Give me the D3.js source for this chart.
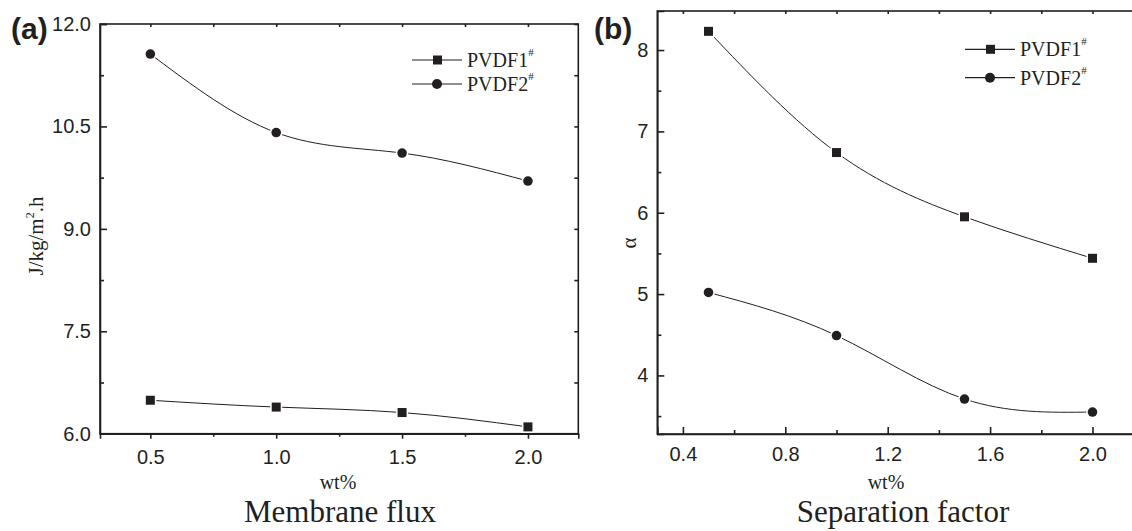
<!DOCTYPE html>
<html>
<head>
<meta charset="utf-8">
<script src="https://cdn.jsdelivr.net/npm/d3@7"></script>
<style>
body{margin:0;background:#fff;}
svg{display:block;}
.tick text{font-family:"Liberation Sans",Arial,sans-serif;font-size:20px;fill:#231f20;}
.tick line,.domain{stroke:#231f20;stroke-width:1.6;}
.frame{fill:none;stroke:#231f20;stroke-width:1.6;}
.serif{font-family:"Liberation Serif","Times New Roman",serif;fill:#231f20;}
.curve{fill:none;stroke:#231f20;stroke-width:1;}
</style>
</head>
<body>
<script>
// values
const WT = [0.5, 1.0, 1.5, 2.0]
const FLUX_PVDF1 = [6.49, 6.39, 6.31, 6.10]
const FLUX_PVDF2 = [11.56, 10.41, 10.11, 9.70]
const ALPHA_PVDF1 = [8.23, 6.74, 5.95, 5.44]
const ALPHA_PVDF2 = [5.02, 4.49, 3.71, 3.55]
const SERIES_NAMES = ["PVDF1", "PVDF2"]
const FLUX_TICKS = [6.0, 7.5, 9.0, 10.5, 12.0]
const FLUX_WT_TICKS = [0.5, 1.0, 1.5, 2.0]
const ALPHA_TICKS = [4, 5, 6, 7, 8]
const ALPHA_WT_TICKS = [0.4, 0.8, 1.2, 1.6, 2.0]

const W = 1132, H = 531
const INK = "#231f20"

var svg = d3.select("body").append("svg").attr("width", W).attr("height", H)

var minorTicks = function(ticks){
    var step = ticks[1] - ticks[0]
    var out = []
    for (var i = 0; i < ticks.length + 1; i++) out.push(ticks[0] + (i - 0.5) * step)
    return out
}

var drawPanel = function(p){
    var g = svg.append("g")
    var x = d3.scaleLinear().domain(p.xDomain).range([p.left, p.right])
    var y = d3.scaleLinear().domain(p.yDomain).range([p.bottom, p.top])

    g.append("rect").classed("frame", true)
        .attr("x", p.left).attr("y", p.top)
        .attr("width", p.right - p.left).attr("height", p.bottom - p.top)

    var xMinor = minorTicks(p.xTicks).filter(v => v > p.xDomain[0] && v < p.xDomain[1])
    var yMinor = minorTicks(p.yTicks).filter(v => v > p.yDomain[0] && v < p.yDomain[1])

    // bottom axis
    g.append("g").attr("transform", "translate(0," + p.bottom + ")")
        .call(d3.axisBottom(x).tickValues(p.xTicks).tickSizeOuter(0)
            .tickSize(p.xTickIn ? -7 : 5).tickPadding(p.xTickIn ? 13 : 11)
            .tickFormat(d3.format(".1f")))
    g.append("g").attr("transform", "translate(0," + p.bottom + ")")
        .call(d3.axisBottom(x).tickValues(xMinor).tickSizeOuter(0)
            .tickSize(p.xTickIn ? -4 : 3).tickFormat(""))
        .select(".domain").remove()

    // left axis
    g.append("g").attr("transform", "translate(" + p.left + ",0)")
        .call(d3.axisLeft(y).tickValues(p.yTicks).tickSizeOuter(0)
            .tickSize(-7).tickPadding(9).tickFormat(d3.format(p.yFormat)))
    g.append("g").attr("transform", "translate(" + p.left + ",0)")
        .call(d3.axisLeft(y).tickValues(yMinor).tickSizeOuter(0).tickSize(-4).tickFormat(""))
        .select(".domain").remove()

    // mirror ticks on top and right
    g.append("g").attr("transform", "translate(0," + p.top + ")")
        .call(d3.axisTop(x).tickValues(p.xTicks.concat(xMinor)).tickSizeOuter(0).tickSize(-3).tickFormat(""))
        .select(".domain").remove()
    g.append("g").attr("transform", "translate(" + p.right + ",0)")
        .call(d3.axisRight(y).tickValues(p.yTicks.concat(yMinor)).tickSizeOuter(0).tickSize(-4).tickFormat(""))
        .select(".domain").remove()

    var line = d3.line().x((d, i) => x(WT[i])).y(d => y(d)).curve(d3.curveNatural)
    p.series.forEach(function(vals, k){
        g.append("path").classed("curve", true).attr("d", line(vals))
        var pts = g.selectAll(null).data(vals).enter()
        if (k == 0) {
            pts.append("rect")
                .attr("x", (d, i) => x(WT[i]) - 4.5).attr("y", d => y(d) - 4.5)
                .attr("width", 9).attr("height", 9)
                .attr("fill", INK).attr("stroke", "#fff").attr("stroke-width", 3)
                .style("paint-order", "stroke")
        } else {
            pts.append("circle")
                .attr("cx", (d, i) => x(WT[i])).attr("cy", d => y(d)).attr("r", 4.8)
                .attr("fill", INK).attr("stroke", "#fff").attr("stroke-width", 3)
                .style("paint-order", "stroke")
        }
    })

    // legend
    SERIES_NAMES.forEach(function(name, k){
        var ly = p.legendY[k]
        g.append("line").attr("x1", p.legendX).attr("x2", p.legendX + 50)
            .attr("y1", ly).attr("y2", ly).attr("stroke", INK).attr("stroke-width", 1.2)
        if (k == 0) {
            g.append("rect").attr("x", p.legendX + 21).attr("y", ly - 4.5)
                .attr("width", 9).attr("height", 9).attr("fill", INK)
        } else {
            g.append("circle").attr("cx", p.legendX + 25).attr("cy", ly).attr("r", 5).attr("fill", INK)
        }
        var t = g.append("text").classed("serif", true)
            .attr("x", p.legendX + 55).attr("y", ly + 7).style("font-size", "20px")
        t.append("tspan").text(name)
        t.append("tspan").attr("dy", -11).style("font-size", "11px").text("#")
    })

    // panel letter
    g.append("text").attr("x", p.letterX).attr("y", 39)
        .style("font-family", "'Liberation Sans',Arial,sans-serif")
        .style("font-weight", "bold").style("font-size", "30px").attr("fill", INK)
        .text(p.letter)

    // x title and caption
    g.append("text").classed("serif", true).attr("x", p.wtX).attr("y", p.wtY)
        .attr("text-anchor", "middle").style("font-size", "20px").text("wt%")
    g.append("text").classed("serif", true).attr("x", p.captionX).attr("y", 522)
        .attr("text-anchor", "middle").style("font-size", "31px").text(p.caption)

    return g
}

var a = drawPanel({
    left: 100, right: 578.3, top: 24, bottom: 433.7,
    xDomain: [0.3, 2.2], yDomain: [6, 12],
    xTicks: FLUX_WT_TICKS, yTicks: FLUX_TICKS, yFormat: ".1f", xTickIn: false,
    series: [FLUX_PVDF1, FLUX_PVDF2],
    legendX: 412, legendY: [60, 84],
    letter: "(a)", letterX: 11,
    wtX: 338, wtY: 489, captionX: 340, caption: "Membrane flux"
})
var yt = a.append("text").classed("serif", true)
    .attr("transform", "translate(43,236) rotate(-90)")
    .attr("text-anchor", "middle").style("font-size", "21px")
yt.append("tspan").text("J/kg/m")
yt.append("tspan").attr("dy", -9).style("font-size", "12px").text("2")
yt.append("tspan").attr("dy", 9).text(".h")

var b = drawPanel({
    left: 657.3, right: 1143.7, top: 11, bottom: 434,
    xDomain: [0.3, 2.2], yDomain: [3.28, 8.48],
    xTicks: ALPHA_WT_TICKS, yTicks: ALPHA_TICKS, yFormat: "d", xTickIn: true,
    series: [ALPHA_PVDF1, ALPHA_PVDF2],
    legendX: 965, legendY: [49.3, 77.7],
    letter: "(b)", letterX: 594,
    wtX: 886, wtY: 489, captionX: 903, caption: "Separation factor"
})
b.append("text").classed("serif", true)
    .attr("transform", "translate(636,243) rotate(-90)")
    .attr("text-anchor", "middle").style("font-size", "21px").text("α")
</script>
</body>
</html>
